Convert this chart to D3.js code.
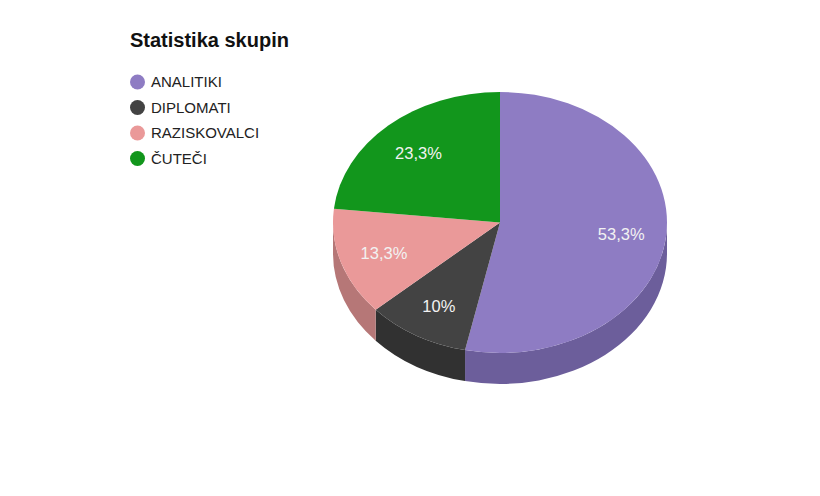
<!DOCTYPE html>
<html>
<head>
<meta charset="utf-8">
<script src="https://cdn.jsdelivr.net/npm/d3@7"></script>
<style>
  html, body { margin: 0; padding: 0; background: #fff; }
  svg { display: block; font-family: "Liberation Sans", Arial, sans-serif; }
</style>
</head>
<body>
<svg id="chart" width="820" height="496"></svg>
<script>
// Group statistics (shares of respondents)
const categories = ["ANALITIKI", "DIPLOMATI", "RAZISKOVALCI", "ČUTEČI"];
const values = [53.3, 10, 13.3, 23.3];
const valueLabels = ["53,3%", "10%", "13,3%", "23,3%"];
const topColors = ["#8e7cc3", "#434343", "#ea9999", "#12961c"];
const sideColors = ["#6c5e9b", "#313131", "#b67777", "#0d7215"];
const title = "Statistika skupin";

const svg = d3.select("#chart");
const cx = 500, cy = 222.5, rx = 167, ry = 130.5, depth = 31;

// Title
svg.append("text")
  .attr("x", 130).attr("y", 47)
  .attr("font-size", 20).attr("font-weight", "bold").attr("fill", "#111")
  .text(title);

// Legend
const legend = svg.append("g");
categories.forEach((c, i) => {
  const y = 82 + i * 25.5;
  legend.append("circle").attr("cx", 137.5).attr("cy", y).attr("r", 7.5).attr("fill", topColors[i]);
  legend.append("text").attr("x", 151).attr("y", y).attr("dy", "0.36em")
    .attr("font-size", 15).attr("fill", "#222").text(c);
});

const pie = d3.pie().sort(null).startAngle(0).endAngle(2 * Math.PI);
const arcs = pie(values);

const px = a => cx + rx * Math.sin(a);
const py = (a, dz) => cy - ry * Math.cos(a) + (dz || 0);

// Side walls (only the front half, angles between pi/2 and 3pi/2 are visible)
const sides = svg.append("g");
arcs.forEach((d, i) => {
  const a0 = Math.max(d.startAngle, Math.PI / 2);
  const a1 = Math.min(d.endAngle, 3 * Math.PI / 2);
  if (a1 <= a0) return;
  const large = (a1 - a0) > Math.PI ? 1 : 0;
  const p = `M${px(a0)},${py(a0)}` +
    `A${rx},${ry} 0 ${large} 1 ${px(a1)},${py(a1)}` +
    `L${px(a1)},${py(a1, depth)}` +
    `A${rx},${ry} 0 ${large} 0 ${px(a0)},${py(a0, depth)}Z`;
  sides.append("path").attr("d", p).attr("fill", sideColors[i]);
});

// Top faces
const arc = d3.arc().innerRadius(0).outerRadius(rx);
const topFaces = svg.append("g").attr("transform", `translate(${cx},${cy}) scale(1,${ry / rx})`);
topFaces.selectAll("path").data(arcs).join("path")
  .attr("d", arc)
  .attr("fill", (d, i) => topColors[i]);

// Percentage labels
const f = 0.73;
svg.append("g").selectAll("text").data(arcs).join("text")
  .attr("x", d => cx + rx * f * Math.sin((d.startAngle + d.endAngle) / 2))
  .attr("y", d => cy - ry * f * Math.cos((d.startAngle + d.endAngle) / 2) + 1.5)
  .attr("text-anchor", "middle").attr("dy", "0.36em")
  .attr("font-size", 16.5).attr("fill", "#f2f2f2")
  .text((d, i) => valueLabels[i]);
</script>
</body>
</html>
